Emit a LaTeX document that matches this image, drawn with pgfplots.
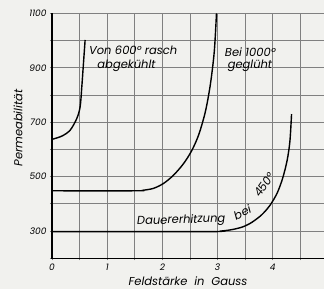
\documentclass[border=0pt]{standalone}
\usepackage{pgfplots}
\pgfplotsset{compat=1.18}
\usepackage{fontspec}
\setsansfont{Poppins}
\definecolor{paper}{RGB}{241,241,238}
\pagecolor{paper}
\begin{document}%
\begin{tikzpicture}[font=\fontsize{11.5}{13}\selectfont\sffamily\itshape]
\begin{axis}[
  at={(0pt,0pt)}, anchor=south west,
  scale only axis, width=276pt, height=245pt,
  xmin=0, xmax=5, ymin=200, ymax=1100,
  axis line style={line width=0.8pt, black!50},
  xtick={0,1,2,3,4,5}, minor xtick={0.5,1.5,2.5,3.5,4.5},
  ytick={300,500,700,900,1100}, minor ytick={200,400,600,800,1000},
  grid=both,
  major grid style={draw=black!50, line width=0.8pt},
  minor grid style={draw=black!50, line width=0.8pt},
  tick style={draw=black!50, line width=0.8pt},
  tick align=outside, major tick length=2pt, minor tick length=2pt,
  xtick pos=bottom, ytick pos=left,
  ticklabel style={font=\fontsize{9}{10}\selectfont\sffamily\itshape},
  /pgf/number format/assume math mode=true,
  /pgf/number format/1000 sep={},
  clip=false,
]
\draw[black, line width=1.3pt] (axis cs:0,1100) -- (axis cs:0,200) -- (axis cs:5,200);
\addplot[black, line width=1.4pt, smooth] coordinates {
 (0,637) (0.18,649) (0.33,671) (0.45,714) (0.51,757) (0.54,830) (0.57,916) (0.60,1002)};
\addplot[black, line width=1.4pt, smooth] coordinates {
 (0,448) (1.5,448) (1.65,450) (1.84,457) (2.02,475) (2.20,505) (2.38,547) (2.53,595) (2.66,655) (2.78,740) (2.87,840) (2.94,960) (2.98,1100)};
\addplot[black, line width=1.4pt, smooth] coordinates {
 (0,298) (2.8,298) (3.05,300) (3.25,305) (3.45,315) (3.62,332) (3.8,360) (3.95,395) (4.08,440) (4.18,495) (4.26,560) (4.31,630) (4.34,730)};
\node[anchor=base] at (axis cs:1.47,947) {Von 600° rasch};
\node[anchor=base] at (axis cs:1.35,898) {abgekühlt};
\node[anchor=base west] at (axis cs:3.07,941) {Bei 1000°};
\node[anchor=base west] at (axis cs:3.12,898) {geglüht};
\node[anchor=base west, rotate=2] at (axis cs:1.48,322) {Dauererhitzung};
\node[rotate=25] at (axis cs:3.45,368) {bei};
\node[rotate=55] at (axis cs:3.84,470) {450°};
\end{axis}
\node[rotate=90] at (-34pt,130.3pt) {Permeabilität};
\node at (136pt,-22.5pt) {Feldstärke\ \ in\ \ Gauss};
\pgfresetboundingbox
\path[use as bounding box] (-52pt,-30.7pt) rectangle (272pt,258.3pt);
\end{tikzpicture}%
\end{document}
